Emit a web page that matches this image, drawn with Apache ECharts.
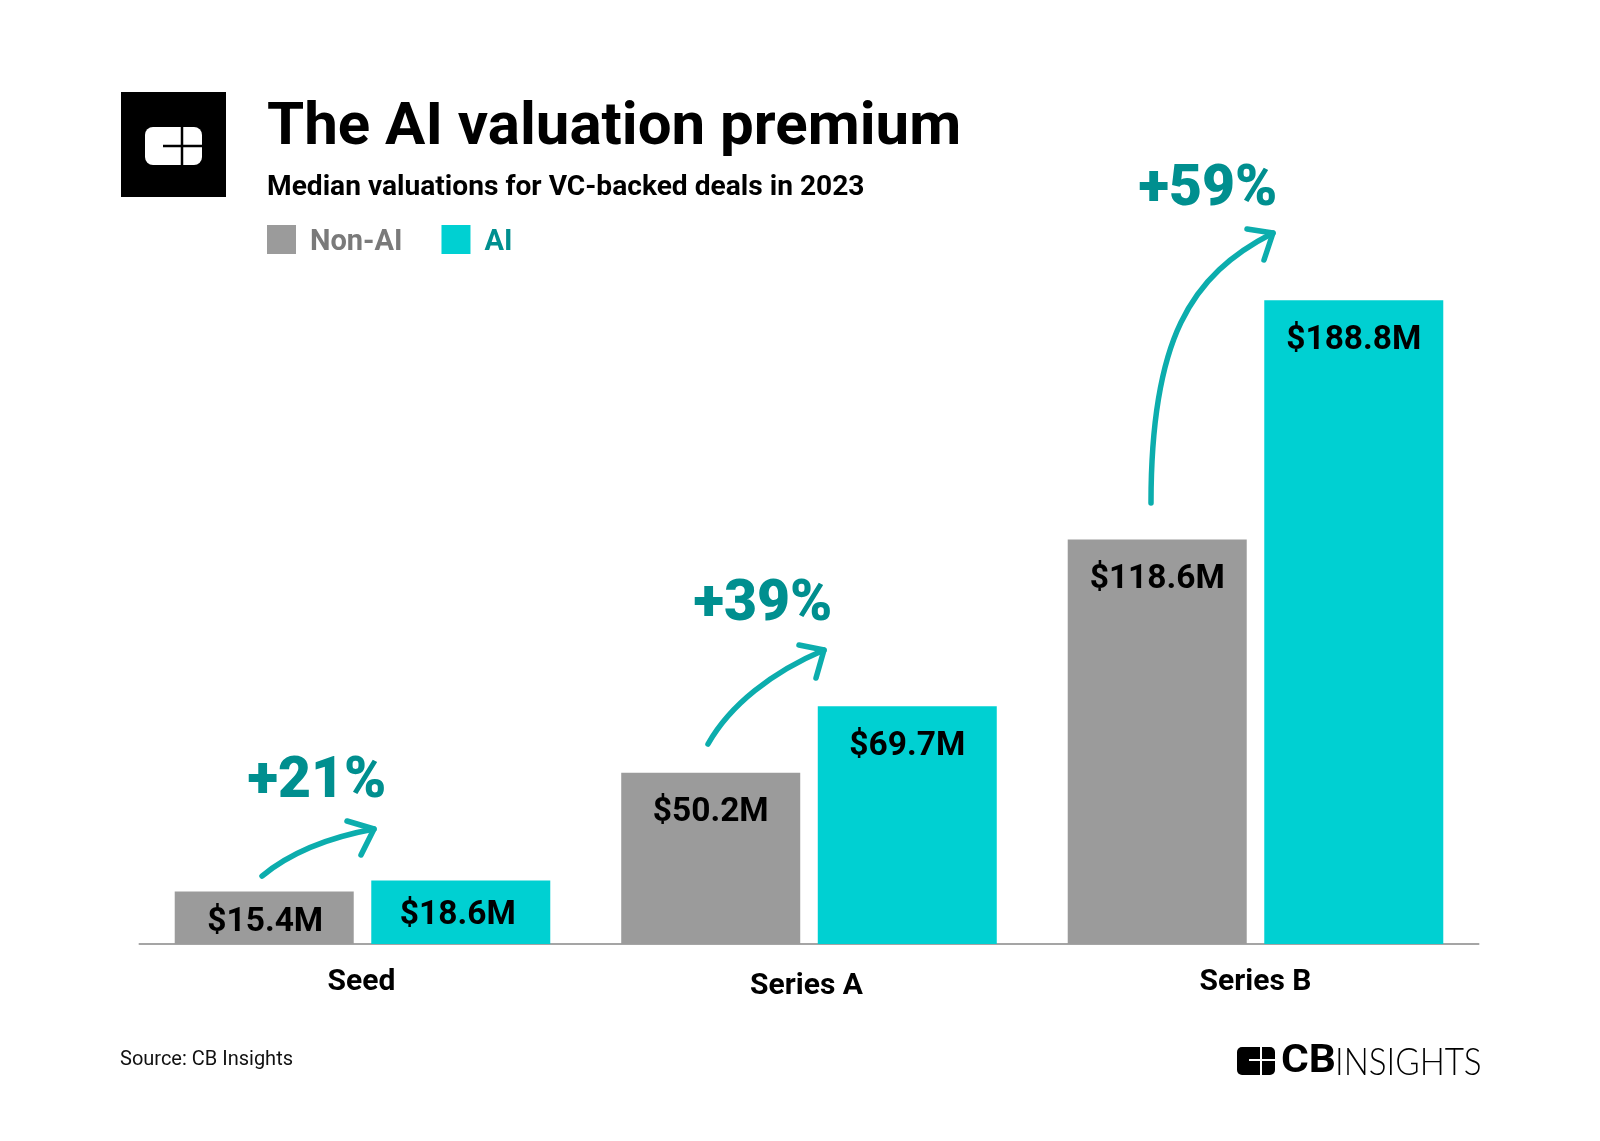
<!DOCTYPE html>
<html>
<head>
<meta charset="utf-8">
<title>The AI valuation premium</title>
<style>
html, body { margin: 0; padding: 0; background: #fff; }
#chart { width: 1600px; height: 1141px; }
</style>
<script src="https://cdn.jsdelivr.net/npm/echarts@6/dist/echarts.min.js"></script>
</head>
<body>
<div id="chart"></div>
<script>
var categories = ['Seed', 'Series A', 'Series B'];
var nonAi = [15.4, 50.2, 118.6];
var ai = [18.6, 69.7, 188.8];
var premiums = ['+21%', '+39%', '+59%'];

var GREY = '#9b9b9b', CYAN = '#00d0d2', TEAL = '#008f8f', ARROW = '#0cadad';
var FONT = 'Roboto';

function money(v) {
    return '$' + v.toFixed(1) + 'M';
}

// the seed bars are too short for the normal label spot
function barData(values, seedLabel) {
    return values.map(function (v, i) {
        return i == 0 ? { value: v, label: seedLabel } : v;
    });
}

function barSeries(name, values, color, seedLabel) {
    return {
        name: name,
        type: 'bar',
        barWidth: 179,
        barGap: '9.8%',
        itemStyle: { color: color },
        label: {
            show: true,
            position: 'insideTop',
            distance: 23,
            formatter: function (p) { return money(p.value); },
            color: '#000',
            fontFamily: FONT,
            fontWeight: 700,
            fontSize: 33.5
        },
        data: barData(values, seedLabel)
    };
}

function arrow(p) {
    var style = { stroke: ARROW, lineWidth: 5.5, fill: null, lineCap: 'round', lineJoin: 'round' };
    return [
        {
            type: 'bezierCurve', z: 10,
            shape: { x1: p[0][0], y1: p[0][1], cpx1: p[1][0], cpy1: p[1][1], cpx2: p[2][0], cpy2: p[2][1], x2: p[3][0], y2: p[3][1] },
            style: style
        },
        {
            type: 'polyline', z: 10,
            shape: { points: [p[4], p[3], p[5]] },
            style: style
        }
    ];
}

function premiumText(text, x, y) {
    return {
        type: 'text', z: 10, x: x, y: y,
        style: { text: text, fill: TEAL, font: '900 57px ' + FONT, textAlign: 'center', textVerticalAlign: 'middle' }
    };
}

function cross(x, y, left, right, top, bottom, w, color) {
    var line = { stroke: color, lineWidth: w };
    return [
        { type: 'line', z: 12, shape: { x1: left, y1: y, x2: right, y2: y }, style: line },
        { type: 'line', z: 12, shape: { x1: x, y1: top, x2: x, y2: bottom }, style: line }
    ];
}

var graphics = [
    // logo box
    { type: 'rect', z: 10, shape: { x: 121, y: 92, width: 105, height: 105 }, style: { fill: '#000' } },
    { type: 'rect', z: 11, shape: { x: 145, y: 127, width: 57, height: 38, r: 8 }, style: { fill: '#fff' } },
    // source and brand
    {
        type: 'text', z: 10, x: 120, y: 1060,
        style: { text: 'Source: CB Insights', fill: '#111', font: '400 20px ' + FONT, textVerticalAlign: 'middle' }
    },
    { type: 'rect', z: 11, shape: { x: 1237, y: 1047, width: 38, height: 28, r: 5 }, style: { fill: '#000' } },
    {
        type: 'text', z: 10, x: 1281, y: 1062.5, scaleX: 1.12,
        style: { text: 'CB', fill: '#000', font: '700 38px ' + FONT, textVerticalAlign: 'middle' }
    },
    {
        type: 'text', z: 10, x: 1335, y: 1062.5, scaleX: 0.875,
        style: { text: 'INSIGHTS', fill: '#000', font: '300 38px Lato', textVerticalAlign: 'middle' }
    },
    premiumText(premiums[0], 317, 782.5),
    premiumText(premiums[1], 763, 605.5),
    premiumText(premiums[2], 1208, 190.5)
].concat(
    cross(182, 146, 163, 202, 127, 165, 2.5, '#000'),
    cross(1261, 1060, 1249, 1275, 1047, 1075, 2, '#fff'),
    arrow([[262, 876], [290, 853], [325, 838], [374, 829], [347, 821], [361, 855]]),
    arrow([[708, 744], [730, 705], [772, 672], [824, 650], [799, 645], [816, 678]]),
    arrow([[1151, 503], [1151, 340], [1190, 275], [1273, 233], [1247, 229], [1264, 260]])
);

var chart = echarts.init(document.getElementById('chart'));
chart.setOption({
    animation: false,
    backgroundColor: '#fff',
    title: {
        text: 'The AI valuation premium',
        subtext: 'Median valuations for VC-backed deals in 2023',
        left: 267 - 5,
        top: 94,
        itemGap: 15,
        textStyle: { fontFamily: FONT, fontWeight: 700, fontSize: 60, color: '#000' },
        subtextStyle: { fontFamily: FONT, fontWeight: 700, fontSize: 28.15, color: '#000' }
    },
    legend: {
        left: 267 - 5,
        top: 225 - 5,
        icon: 'rect',
        itemWidth: 29,
        itemHeight: 29,
        itemGap: 39,
        selectedMode: false,
        data: [
            { name: 'Non-AI', textStyle: { color: '#7a7a7a' } },
            { name: 'AI', textStyle: { color: TEAL } }
        ],
        // plain text ignores padding top when centred, rich text does not
        textStyle: { fontFamily: FONT, fontWeight: 700, fontSize: 29, padding: [6, 0, 0, 9], rich: { x: {} } }
    },
    grid: { left: 139.25, right: 121.25, top: 262, height: 682 },
    xAxis: {
        type: 'category',
        data: [
            { value: categories[0], textStyle: { padding: [0, 2, 0, 0] } },
            { value: categories[1], textStyle: { padding: [4, 5, 0, 0] } },
            categories[2]
        ],
        axisTick: { show: false },
        axisLine: { lineStyle: { color: '#888', width: 1.5 } },
        axisLabel: { margin: 23, color: '#000', fontFamily: FONT, fontWeight: 700, fontSize: 30 }
    },
    yAxis: { type: 'value', min: 0, max: 200, show: false, splitLine: { show: false } },
    series: [
        barSeries('Non-AI', nonAi, GREY, { distance: 14, offset: [1, 0] }),
        barSeries('AI', ai, CYAN, { distance: 18, offset: [-3, 0] })
    ],
    graphic: graphics
});
</script>
</body>
</html>
